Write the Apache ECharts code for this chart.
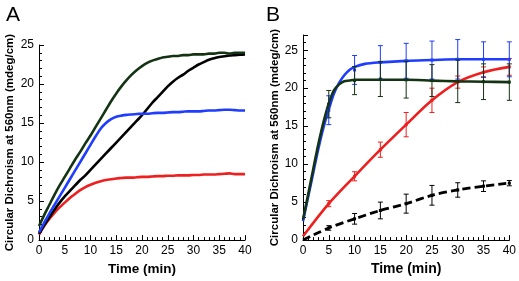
<!DOCTYPE html>
<html><head><meta charset="utf-8">
<script src="https://cdn.jsdelivr.net/npm/echarts@6/dist/echarts.min.js"></script>
<style>html,body{margin:0;padding:0;background:#fff}#c{width:519px;height:281px}</style>
</head><body><div id="c"></div>
<script>
// ---- Panel A data (time in min) ----
const timesA = [0,1,2,3,4,5,6,7,8,9,10,11,12,13,14,15,16,17,18,19,20,21,22,23,24,25,26,27,28,29,30,31,32,33,34,35,36,37,38,39,40];
const greenA = [1.8,3.2,4.5,5.8,7.0,8.1,9.2,10.3,11.3,12.4,13.4,14.5,15.6,16.7,17.8,18.8,19.7,20.5,21.2,21.8,22.3,22.7,23.0,23.2,23.4,23.5,23.6,23.6,23.7,23.7,23.8,23.8,23.8,23.9,23.9,24.0,24.0,23.9,24.0,24.0,24.0];
const blueA  = [1.0,2.2,3.4,4.5,5.6,6.7,7.8,8.9,10.0,11.1,12.2,13.3,14.3,15.0,15.5,15.8,15.95,16.05,16.1,16.15,16.2,16.2,16.25,16.3,16.3,16.35,16.4,16.4,16.45,16.5,16.5,16.5,16.55,16.6,16.6,16.65,16.7,16.7,16.65,16.6,16.6];
const blackA = [0.8,1.9,2.9,3.9,4.8,5.6,6.3,7.0,7.7,8.3,9.0,9.7,10.4,11.1,11.8,12.5,13.2,13.9,14.6,15.3,16.0,16.8,17.6,18.3,19.0,19.7,20.3,20.8,21.2,21.7,22.1,22.5,22.8,23.1,23.3,23.45,23.55,23.65,23.7,23.75,23.8];
const redA   = [0.7,1.8,2.7,3.5,4.2,4.8,5.4,5.9,6.4,6.8,7.1,7.35,7.55,7.7,7.8,7.9,7.95,8.0,8.0,8.05,8.1,8.1,8.15,8.2,8.2,8.25,8.25,8.3,8.3,8.3,8.35,8.35,8.4,8.4,8.4,8.45,8.5,8.55,8.45,8.45,8.45];

// ---- Panel B data ----
const timesBFast = [0,1,2,3,4,5,6,7,8,9,10,12,15,20,25,30,35,40];
const blueB  = [2.5,5.7,8.9,12.1,14.9,17.2,19.3,20.7,21.7,22.4,22.8,23.2,23.4,23.6,23.7,23.8,23.8,23.8];
const greenB = [2.7,6.0,9.4,12.7,15.6,18.0,19.7,20.5,20.9,21.0,21.1,21.1,21.1,21.1,21.0,20.9,20.85,20.8];
const timesBSlow = [0,5,10,15,20,25,30,35,40];
const redB   = [0.5,4.8,8.4,11.9,15.2,18.4,20.8,22.1,22.8];
const blackB = [0.0,1.6,2.8,3.9,4.8,5.9,6.6,7.1,7.5];

// error bars
const errT = [5,10,15,20,25,30,35,40];
const blueMean  = [17.1,22.4,23.4,23.6,23.7,23.8,23.8,23.8];
const blueErr   = [1.9,1.9,2.2,2.3,2.5,2.6,2.3,2.3];
const greenMean = [17.9,21.0,21.2,21.1,21.0,20.9,20.85,20.8];
const greenErr  = [1.8,1.85,2.3,2.4,2.1,2.8,2.35,2.4];
const redMean   = [4.8,8.4,11.9,15.2,18.4,20.8,22.1,22.8];
const redErr    = [0.4,0.6,1.0,1.6,1.6,0.8,0.7,1.1];
const blackMean = [1.6,2.8,3.9,4.8,5.9,6.6,7.1,7.5];
const blackErr  = [0.3,0.7,1.1,1.25,1.3,0.95,0.7,0.35];

const xTicks = [0,5,10,15,20,25,30,35,40];
const yName = 'Circular Dichroism at 560nm (mdeg/cm)';
const xName = 'Time (min)';

const C = {green:'#133313', blue:'#1f3dff', black:'#000000', red:'#ee1f1f'};
const FONT = 'Liberation Sans, Arial, Helvetica, sans-serif';

const pair = (ts, vs) => ts.map((t,i)=>[t, vs[i]]);
const triple = (ts, ms, es) => ts.map((t,i)=>[t, ms[i], es[i]]);

function xAxis(gi, nameSize){
  return {type:'value', gridIndex:gi, min:xTicks[0], max:xTicks[xTicks.length-1], interval:5,
    name:xName, nameLocation:'middle', nameGap:17,
    nameTextStyle:{fontFamily:FONT, fontWeight:'bold', fontSize:nameSize, color:'#000'},
    axisLine:{lineStyle:{color:'#000', width:1}},
    axisTick:{inside:true, length:5, lineStyle:{color:'#000'}},
    minorTick:{show:true, splitNumber:5, length:3, lineStyle:{color:'#000'}},
    splitLine:{show:false}, minorSplitLine:{show:false},
    axisLabel:{fontFamily:FONT, fontSize:12, color:'#000', margin:5}};
}
function yAxis(gi, max, gap){
  return {type:'value', gridIndex:gi, min:0, max:max, interval:5,
    name:yName, nameLocation:'middle', nameGap:gap, nameRotate:90,
    nameTextStyle:{fontFamily:FONT, fontWeight:'bold', fontSize:11.5, color:'#000'},
    axisLine:{show:true, lineStyle:{color:'#000', width:1}},
    axisTick:{inside:true, length:5, lineStyle:{color:'#000'}},
    minorTick:{show:true, splitNumber:5, length:3, lineStyle:{color:'#000'}},
    splitLine:{show:false}, minorSplitLine:{show:false},
    axisLabel:{fontFamily:FONT, fontSize:12, color:'#000', margin:5, showMaxLabel: max % 5 === 0}};
}
function line(gi, data, color, dashed){
  return {type:'line', xAxisIndex:gi, yAxisIndex:gi, data:data, showSymbol:false, smooth:0.3,
    lineStyle:{color:color, width:dashed?2.8:2.6, type: dashed?[8,4]:'solid'}, z:3, animation:false};
}
function errBars(gi, data, color){
  return {type:'custom', xAxisIndex:gi, yAxisIndex:gi, data:data, z:4, animation:false,
    encode:{x:0, y:1},
    renderItem:function(params, api){
      const x = api.value(0), m = api.value(1), e = api.value(2);
      const top = api.coord([x, m+e]);
      const bot = api.coord([x, m-e]);
      const mid = api.coord([x, m]);
      const w = 2.5;
      const st = {stroke:color, lineWidth:1};
      return {type:'group', children:[
        {type:'line', shape:{x1:top[0], y1:top[1], x2:bot[0], y2:bot[1]}, style:st},
        {type:'line', shape:{x1:top[0]-w, y1:top[1], x2:top[0]+w, y2:top[1]}, style:st},
        {type:'line', shape:{x1:bot[0]-w, y1:bot[1], x2:bot[0]+w, y2:bot[1]}, style:st},
        {type:'rect', shape:{x:mid[0]-1.5, y:mid[1]-1.5, width:3, height:3}, style:{fill:color}}
      ]};
    }};
}

const chart = echarts.init(document.getElementById('c'), null, {renderer:'canvas'});
chart.setOption({
  animation:false,
  backgroundColor:'#fff',
  title:[
    {text:'A', left:1, top:0, textStyle:{fontFamily:FONT, fontSize:21, fontWeight:'normal', color:'#000'}},
    {text:'B', left:261, top:0, textStyle:{fontFamily:FONT, fontSize:21, fontWeight:'normal', color:'#000'}}
  ],
  grid:[
    {left:39, top:45, width:206, height:205, containLabel:false},
    {left:303, top:35, width:209, height:215, containLabel:false}
  ],
  xAxis:[xAxis(0,13.5), xAxis(1,14)],
  yAxis:[yAxis(0,25,23), yAxis(1,27,22)],
  series:[
    line(0, pair(timesA, redA), C.red),
    line(0, pair(timesA, blackA), C.black),
    line(0, pair(timesA, blueA), C.blue),
    line(0, pair(timesA, greenA), C.green),
    line(1, pair(timesBSlow, blackB), C.black, true),
    line(1, pair(timesBSlow, redB), C.red),
    line(1, pair(timesBFast, blueB), C.blue),
    line(1, pair(timesBFast, greenB), C.green),
    errBars(1, triple(errT, blackMean, blackErr), C.black),
    errBars(1, triple(errT, redMean, redErr), C.red),
    errBars(1, triple(errT, blueMean, blueErr), C.blue),
    errBars(1, triple(errT, greenMean, greenErr), C.green)
  ]
});
</script></body></html>
